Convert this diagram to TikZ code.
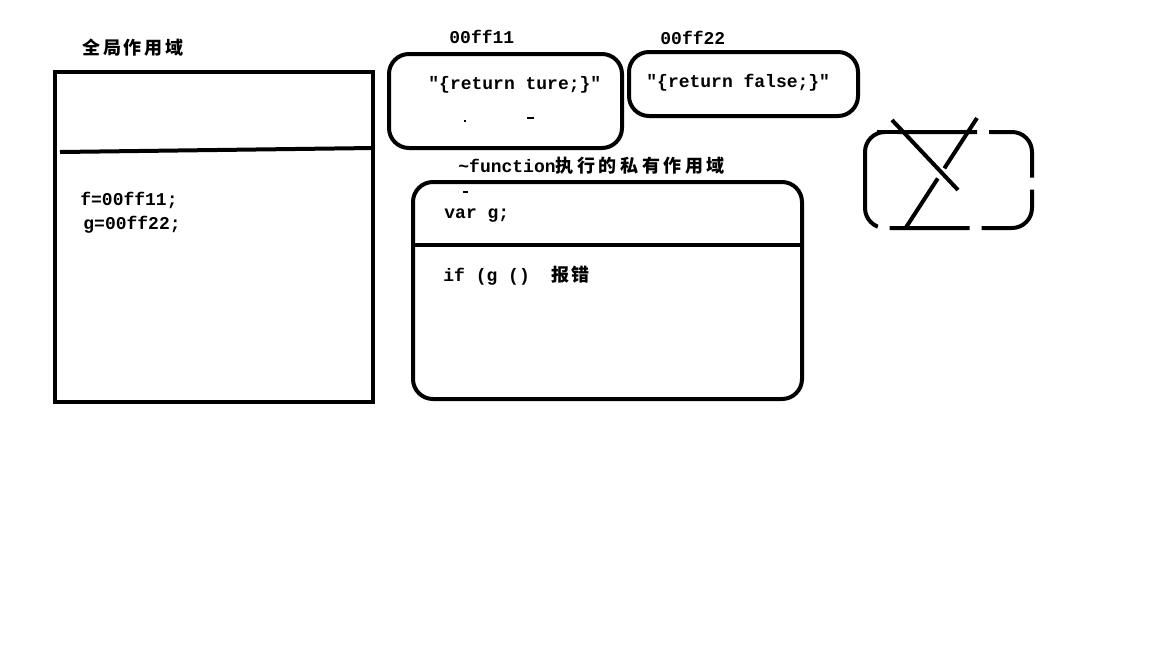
\documentclass[tikz,border=0pt]{standalone}
\usepackage{fontspec}
\setmonofont{Liberation Mono}
\newfontfamily\cjk{Noto Sans CJK SC}[LetterSpace=12]
\tikzset{
  scopebox/.style={line width=2pt},
  roundbox/.style={line width=2pt, rounded corners=10pt},
  codetxt/.style={anchor=west, inner sep=0pt, font=\ttfamily\bfseries\fontsize{9}{11}\selectfont},
  speck/.style={line width=0.8pt},
}
\begin{document}
\begin{tikzpicture}[x=0.5pt,y=-0.5pt]
\useasboundingbox (0,0) rectangle (1169,660);

% global scope
\node[codetxt] (globaltitle) at (82,48) {\cjk\addfontfeature{LetterSpace=15}全局作用域};
\draw[scopebox] (55,72) rectangle (373,402);
\draw[scopebox] (60,152) -- (373,148);
\node[codetxt] (fline) at (80,200) {f=00ff11;};
\node[codetxt] (gline) at (83,225) {g=00ff22;};

% function objects
\node[codetxt] (addrone) at (449,37) {00ff11};
\draw[roundbox] (389,54) rectangle (622,148);
\node[codetxt] (bodyone) at (428,85) {"\{return ture;\}"};
\draw[speck] (464,121) -- (466,121);
\draw[speck] (527,118) -- (534,118);

\node[codetxt] (addrtwo) at (660,38) {00ff22};
\draw[roundbox] (629,52) rectangle (858,116);
\node[codetxt] (bodytwo) at (646,83) {"\{return false;\}"};

% private scope of the call
\node[codetxt] (privtitle) at (458,166) {\textasciitilde function{\cjk\addfontfeature{LetterSpace=20}执行的私有作用域}};
\draw[roundbox] (413,182) rectangle (802,399);
\draw[scopebox] (413,245) -- (802,245);
\draw[speck] (463,192) -- (468,192);
\node[codetxt] (varline) at (444,216) {var g;};
\node[codetxt] (ifline) at (443,276) {if (g ()\ \ {\cjk 报错}};

% crossed-out box
\draw[roundbox, dash pattern=on 40pt off 6pt] (865,132) rectangle (1032,228);
\draw[scopebox] (877,132) -- (973,132);
\draw[scopebox] (892,120) -- (958,190);
\draw[scopebox, dash pattern=on 30pt off 6pt] (977,118) -- (903,232);

\end{tikzpicture}
\end{document}
